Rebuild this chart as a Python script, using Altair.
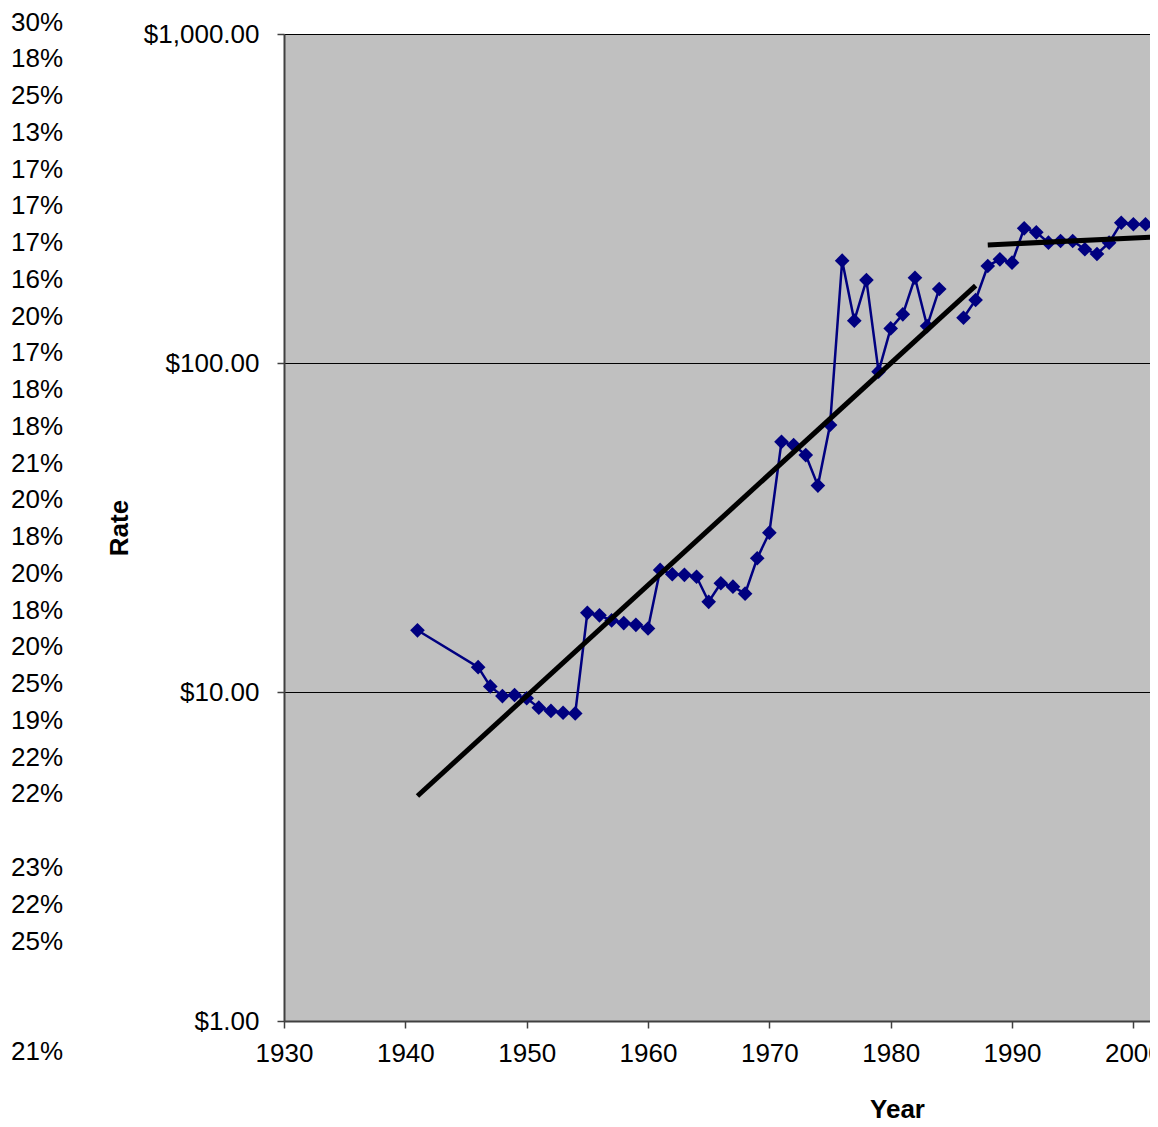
import altair as alt
import pandas as pd

# ---- data ----
years = [1941, 1946, 1947, 1948, 1949, 1950, 1951, 1952, 1953, 1954,
         1955, 1956, 1957, 1958, 1959, 1960, 1961, 1962, 1963, 1964,
         1965, 1966, 1967, 1968, 1969, 1970, 1971, 1972, 1973, 1974,
         1975, 1976, 1977, 1978, 1979, 1980, 1981, 1982, 1983, 1984,
         1986, 1987, 1988, 1989, 1990, 1991, 1992, 1993, 1994, 1995,
         1996, 1997, 1998, 1999, 2000, 2001]
rates = [15.4, 11.9, 10.4, 9.72, 9.79, 9.57, 8.96, 8.76, 8.65, 8.61,
         17.4, 17.1, 16.5, 16.2, 16.0, 15.6, 23.5, 22.8, 22.7, 22.4,
         18.8, 21.4, 20.9, 19.9, 25.5, 30.5, 57.6, 56.3, 52.5, 42.4,
         64.8, 204.7, 134.5, 178.7, 94.1, 127.4, 140.6, 181.6, 129.5, 167.9,
         137.3, 155.4, 197.2, 206.6, 201.8, 256.6, 249.5, 232.1, 234.9, 234.9,
         221.7, 214.4, 232.1, 266.9, 264.0, 264.0]
# line is broken at the missing 1985 value
segments = ["a"] * 40 + ["b"] * 16

trend_years = [1941, 1987, 1988, 2002]
trend_vals = [4.83, 171.8, 228.4, 241.9]
trend_ids = ["t1", "t1", "t2", "t2"]

pct_labels = ["30%", "18%", "25%", "13%", "17%", "17%", "17%", "16%", "20%", "17%",
              "18%", "18%", "21%", "20%", "18%", "20%", "18%", "20%", "25%", "19%",
              "22%", "22%", "", "23%", "22%", "25%", "", "", "21%"]

df = pd.DataFrame({"year": years, "rate": rates, "seg": segments})
tdf = pd.DataFrame({"year": trend_years, "rate": trend_vals, "tid": trend_ids})
pdf = pd.DataFrame({"row": list(range(len(pct_labels))), "label": pct_labels})

FONT = "Liberation Sans"
FS = 26

xscale = alt.Scale(domain=[1930, 2001.37], nice=False, zero=False)
yscale = alt.Scale(type="log", domain=[1, 1000], nice=False)

X = alt.X("year:Q", scale=xscale,
          axis=alt.Axis(values=list(range(1930, 2001, 10)), format="d",
                        title="Year", grid=False, labelFontSize=FS, labelFont=FONT,
                        labelColor="#000000", labelFlush=False, labelOverlap=False,
                        tickSize=7, tickColor="#404040",
                        tickWidth=1.5, domainColor="#404040", domainWidth=2,
                        labelPadding=12, titleFont=FONT, titleFontSize=FS,
                        titleFontWeight="bold", titleColor="#000000",
                        titleX=613, titleY=96, titleBaseline="alphabetic",
                        titleAnchor="start", titleAlign="center"))
Y = alt.Y("rate:Q", scale=yscale,
          axis=alt.Axis(values=[1, 10, 100, 1000], format="$,.2f", title="Rate",
                        grid=True, gridColor="#000000", gridWidth=1,
                        labelFontSize=FS, labelFont=FONT, labelColor="#000000",
                        labelFlush=False, labelOverlap=False,
                        tickSize=7, tickColor="#404040", tickWidth=1.5,
                        domainColor="#404040", domainWidth=2, labelPadding=18,
                        titleFont=FONT, titleFontSize=FS, titleFontWeight="bold",
                        titleColor="#000000", titleAngle=270, titleX=-165,
                        titleY=493.5, titleAlign="center", titleBaseline="middle"))

line = alt.Chart(df).mark_line(color="#000080", strokeWidth=2.5).encode(
    x=X, y=Y, detail="seg:N")
points = alt.Chart(df).mark_point(shape="diamond", filled=True, size=215,
                                  color="#000080", opacity=1).encode(x=X, y=Y)
trend = alt.Chart(tdf).mark_line(color="#000000", strokeWidth=5, clip=True).encode(
    x=X, y=Y, detail="tid:N")

main = alt.layer(line, points, trend)

labels = alt.Chart(pdf).mark_text(align="left", baseline="middle", fontSize=FS,
                                  font=FONT, color="#000000").encode(
    x=alt.value(-273),
    y=alt.Y("row:Q", scale=alt.Scale(domain=[0, 28], range=[-11.5, 1017.8]), axis=None),
    text="label:N")

chart = alt.layer(main, labels).resolve_scale(y="independent").properties(
    width=866, height=987,
    autosize=alt.AutoSizeParams(type="none"),
    padding={"left": 276, "top": 26, "right": 0, "bottom": 106},
    background="#ffffff",
).configure_view(fill="#C0C0C0", stroke=None)

chart.save("out.html", embed_options={"renderer": "svg", "actions": False})
